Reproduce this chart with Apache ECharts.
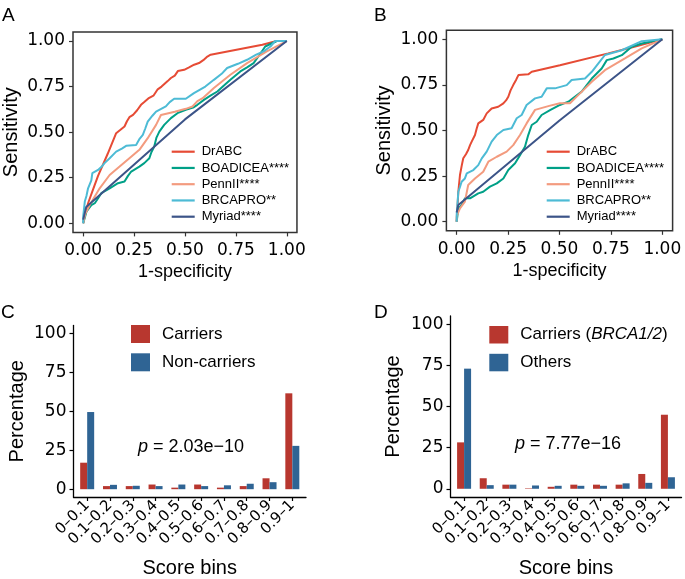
<!DOCTYPE html>
<html><head><meta charset="utf-8">
<script src="https://cdn.jsdelivr.net/npm/echarts@6/dist/echarts.min.js"></script>
<style>html,body{margin:0;padding:0;background:#fff}#c{width:685px;height:579px}</style>
</head><body><div id="c"></div>
<script>
// ---------- DATA ----------
const rocNames = ['DrABC', 'BOADICEA****', 'PennII****', 'BRCAPRO**', 'Myriad****'];
const rocColors = ['#E64B35', '#00A087', '#F39B7F', '#4DBBD5', '#3C5488'];
const rocTicks = [0, 0.25, 0.5, 0.75, 1];

// Panel A ROC curves [1-specificity, sensitivity]
const drabcA = [[0,0],[0.005,0.03],[0.012,0.06],[0.024,0.11],[0.05,0.19],[0.073,0.26],[0.12,0.38],[0.162,0.494],[0.18,0.51],[0.203,0.531],[0.215,0.56],[0.227,0.582],[0.245,0.595],[0.265,0.62],[0.284,0.65],[0.30,0.665],[0.32,0.685],[0.345,0.70],[0.366,0.735],[0.385,0.75],[0.40,0.765],[0.415,0.78],[0.431,0.797],[0.45,0.81],[0.465,0.835],[0.496,0.842],[0.52,0.855],[0.545,0.87],[0.569,0.879],[0.59,0.895],[0.61,0.915],[0.626,0.925],[0.88,0.98],[0.95,1],[1,1]];
const boadA = [[0,0],[0.008,0.03],[0.016,0.064],[0.04,0.1],[0.057,0.11],[0.075,0.14],[0.089,0.165],[0.13,0.192],[0.171,0.22],[0.203,0.229],[0.22,0.26],[0.236,0.284],[0.276,0.311],[0.3,0.33],[0.325,0.357],[0.335,0.39],[0.349,0.421],[0.36,0.47],[0.374,0.503],[0.398,0.54],[0.431,0.577],[0.463,0.604],[0.504,0.623],[0.54,0.635],[0.561,0.65],[0.593,0.677],[0.625,0.70],[0.659,0.723],[0.69,0.755],[0.723,0.787],[0.772,0.833],[0.805,0.855],[0.837,0.879],[0.87,0.93],[0.894,0.97],[0.951,1],[1,1]];
const pennA = [[0,0],[0.01,0.05],[0.032,0.10],[0.081,0.192],[0.13,0.265],[0.179,0.311],[0.227,0.357],[0.276,0.403],[0.317,0.467],[0.358,0.54],[0.382,0.594],[0.45,0.612],[0.504,0.628],[0.537,0.641],[0.561,0.67],[0.587,0.686],[0.642,0.742],[0.723,0.815],[0.805,0.879],[0.902,0.943],[1,1]];
const brcaA = [[0,0],[0,0.036],[0.008,0.119],[0.016,0.15],[0.024,0.192],[0.04,0.235],[0.045,0.275],[0.073,0.293],[0.09,0.31],[0.105,0.33],[0.13,0.357],[0.162,0.393],[0.19,0.41],[0.211,0.425],[0.26,0.43],[0.275,0.46],[0.293,0.485],[0.305,0.52],[0.317,0.558],[0.34,0.59],[0.358,0.613],[0.406,0.641],[0.425,0.665],[0.447,0.683],[0.504,0.683],[0.544,0.714],[0.6,0.75],[0.642,0.787],[0.68,0.82],[0.707,0.852],[0.76,0.875],[0.805,0.897],[0.85,0.925],[0.886,0.943],[0.92,0.97],[0.943,1],[1,1]];
const myriadA = [[0,0.02],[0.015,0.09],[0.5,0.57],[1,1]];

// Panel B ROC curves
const drabcB = [[0,0],[0.004,0.08],[0.008,0.164],[0.016,0.256],[0.025,0.31],[0.032,0.348],[0.045,0.37],[0.056,0.393],[0.065,0.42],[0.073,0.439],[0.089,0.475],[0.097,0.51],[0.105,0.539],[0.129,0.558],[0.146,0.594],[0.17,0.621],[0.202,0.63],[0.227,0.649],[0.24,0.665],[0.251,0.685],[0.262,0.72],[0.275,0.749],[0.29,0.78],[0.30,0.804],[0.348,0.808],[0.365,0.822],[0.502,0.858],[0.737,0.923],[0.85,0.955],[1,1]];
const boadB = [[0,0],[0.008,0.073],[0.024,0.091],[0.04,0.128],[0.065,0.128],[0.105,0.155],[0.129,0.164],[0.162,0.192],[0.195,0.21],[0.227,0.237],[0.251,0.283],[0.284,0.32],[0.308,0.365],[0.332,0.411],[0.348,0.475],[0.365,0.53],[0.389,0.548],[0.413,0.585],[0.454,0.612],[0.502,0.64],[0.543,0.658],[0.608,0.713],[0.657,0.785],[0.705,0.84],[0.73,0.886],[0.762,0.895],[0.803,0.913],[0.851,0.959],[0.9,0.977],[1,1]];
const pennB = [[0,0],[0,0.03],[0.016,0.073],[0.04,0.11],[0.056,0.201],[0.089,0.237],[0.129,0.274],[0.154,0.329],[0.195,0.356],[0.243,0.384],[0.275,0.42],[0.308,0.475],[0.34,0.539],[0.381,0.613],[0.45,0.635],[0.502,0.649],[0.551,0.649],[0.591,0.694],[0.657,0.767],[0.721,0.831],[0.818,0.895],[0.9,0.95],[1,1]];
const brcaB = [[0,0],[0,0.037],[0.008,0.164],[0.016,0.19],[0.024,0.219],[0.04,0.237],[0.049,0.265],[0.081,0.283],[0.105,0.31],[0.122,0.347],[0.146,0.384],[0.17,0.439],[0.195,0.475],[0.227,0.503],[0.267,0.512],[0.292,0.567],[0.316,0.585],[0.34,0.64],[0.381,0.676],[0.413,0.685],[0.438,0.731],[0.478,0.731],[0.535,0.749],[0.559,0.777],[0.624,0.785],[0.657,0.822],[0.69,0.87],[0.721,0.914],[0.803,0.94],[0.9,0.99],[1,1]];
const myriadB = [[0,0.05],[0.008,0.092],[0.5,0.555],[1,1]];

// Panels C / D histograms
const bins = ['0\u20130.1','0.1\u20130.2','0.2\u20130.3','0.3\u20130.4','0.4\u20130.5','0.5\u20130.6','0.6\u20130.7','0.7\u20130.8','0.8\u20130.9','0.9\u20131'];
const pctTicks = [0, 25, 50, 75, 100];
const carriersC = [17, 2, 2, 3, 1, 3, 1, 2, 7, 61.5];
const nonCarriersC = [49.5, 2.8, 2.2, 2, 3, 2, 2.5, 3.5, 4.5, 27.8];
const carriersD = [28.2, 6.4, 2.5, 0.3, 1.2, 2.5, 2.5, 2.5, 9, 45];
const othersD = [73, 2.2, 2.5, 2, 1.8, 1.8, 1.8, 3.3, 3.6, 7];
const namesC = ['Carriers', 'Non-carriers'];
const namesD = ['Carriers (BRCA1/2)', 'Others'];
const barColors = ['#B8372F', '#2F6494'];
const pTextC = '2.03e\u221210';
const pTextD = '7.77e\u221216';

// ---------- CHART ----------
const SANS = 'Liberation Sans';
const WIDE = 'DejaVu Sans';
const chart = echarts.init(document.getElementById('c'));

function rocX(grid) {
  return {
    type: 'value', gridIndex: grid, min: -0.05, max: 1.05,
    name: '1-specificity', nameLocation: 'middle', nameGap: 31,
    nameTextStyle: {fontFamily: SANS, fontSize: 18, color: '#000'},
    axisLine: {show: false, onZero: false},
    axisTick: {show: true, customValues: rocTicks, length: 4, lineStyle: {color: '#333', width: 1.2}},
    axisLabel: {customValues: rocTicks, formatter: v => v.toFixed(2), margin: 10, fontFamily: WIDE, fontSize: 17, color: '#000'},
    splitLine: {show: false}
  };
}
function rocY(grid) {
  return {
    type: 'value', gridIndex: grid, min: -0.05, max: 1.05,
    name: 'Sensitivity', nameLocation: 'middle', nameGap: 52,
    nameTextStyle: {fontFamily: SANS, fontSize: 20, color: '#000'},
    axisLine: {show: false, onZero: false},
    axisTick: {show: true, customValues: rocTicks, length: 4, lineStyle: {color: '#333', width: 1.2}},
    axisLabel: {customValues: rocTicks, formatter: v => v.toFixed(2), margin: 8, fontFamily: WIDE, fontSize: 17, color: '#000'},
    splitLine: {show: false}
  };
}
function barX(grid) {
  const idx = bins.map((b, i) => i);
  return {
    type: 'value', gridIndex: grid, min: -0.6, max: 9.6,
    name: 'Score bins', nameLocation: 'middle', nameGap: 61,
    nameTextStyle: {fontFamily: SANS, fontSize: 20, color: '#000'},
    axisLine: {show: true, onZero: false, lineStyle: {color: '#000', width: 1.3}},
    axisTick: {show: true, customValues: idx, length: 4, lineStyle: {color: '#000', width: 1.2}},
    axisLabel: {customValues: idx, formatter: v => bins[Math.round(v)], rotate: 45, margin: 6, fontFamily: WIDE, fontSize: 15, color: '#000'},
    splitLine: {show: false}
  };
}
function barY(grid, gap) {
  return {
    type: 'value', gridIndex: grid, min: -5, max: 105,
    name: 'Percentage', nameLocation: 'middle', nameGap: gap,
    nameTextStyle: {fontFamily: SANS, fontSize: 20, color: '#000'},
    axisLine: {show: true, onZero: false, lineStyle: {color: '#000', width: 1.3}},
    axisTick: {show: true, customValues: pctTicks, length: 4, lineStyle: {color: '#000', width: 1.2}},
    axisLabel: {customValues: pctTicks, margin: 7, fontFamily: WIDE, fontSize: 17, color: '#000'},
    splitLine: {show: false}
  };
}
function rocSeries(name, data, color, grid) {
  return {
    type: 'line', name: name, data: data, xAxisIndex: grid, yAxisIndex: grid,
    showSymbol: false, symbol: 'none', color: color,
    lineStyle: {color: color, width: 2}, emphasis: {disabled: true}, clip: true
  };
}
function barSeries(name, values, color, grid) {
  return {
    type: 'bar', name: name, data: values.map((v, i) => [i, v]), xAxisIndex: grid, yAxisIndex: grid,
    barWidth: 7, barGap: '0%', itemStyle: {color: color}, emphasis: {disabled: true}
  };
}

const rocA = [drabcA, boadA, pennA, brcaA, myriadA];
const rocB = [drabcB, boadB, pennB, brcaB, myriadB];
const series = [];
rocA.forEach((d, i) => series.push(rocSeries(rocNames[i], d, rocColors[i], 0)));
rocB.forEach((d, i) => series.push(rocSeries(rocNames[i], d, rocColors[i], 1)));
series.push(barSeries(namesC[0], carriersC, barColors[0], 2));
series.push(barSeries(namesC[1], nonCarriersC, barColors[1], 2));
series.push(barSeries(namesD[0], carriersD, barColors[0], 3));
series.push(barSeries(namesD[1], othersD, barColors[1], 3));

function rocLegend(left) {
  return {
    data: rocNames, orient: 'vertical', left: left, top: 143.7, padding: 0,
    icon: 'rect', itemWidth: 23, itemHeight: 2.2, itemGap: 0.25,
    textStyle: {fontFamily: SANS, fontSize: 13, color: '#000', lineHeight: 16, padding: [0, 0, 0, 2]},
    selectedMode: false
  };
}

const option = {
  animation: false,
  grid: [
    {left: 71.45, top: 31.9, width: 225.5, height: 200.5, show: true, borderColor: '#333', borderWidth: 1.5, backgroundColor: 'transparent'},
    {left: 446.4, top: 30.2, width: 226.2, height: 200.6, show: true, borderColor: '#333', borderWidth: 1.5, backgroundColor: 'transparent'},
    {left: 73.5, top: 325.5, width: 232.5, height: 173.5},
    {left: 450.5, top: 316, width: 231, height: 183.5}
  ],
  xAxis: [rocX(0), rocX(1), barX(2), barX(3)],
  yAxis: [rocY(0), rocY(1), barY(2, 46), barY(3, 47)],
  legend: [
    rocLegend(171.7),
    rocLegend(546.7),
    {data: namesC, orient: 'vertical', left: 131, top: 325, padding: 0, icon: 'rect', itemWidth: 19, itemHeight: 18, itemGap: 10.3,
     textStyle: {fontFamily: SANS, fontSize: 17, color: '#000', padding: [0, 0, 0, 7]}, selectedMode: false},
    {data: namesD, orient: 'vertical', left: 489.3, top: 326, padding: 0, icon: 'rect', itemWidth: 19, itemHeight: 17.5, itemGap: 10.3,
     formatter: n => n === namesD[0] ? '{a|Carriers (}{b|BRCA1/2}{a|)}' : '{a|' + n + '}',
     textStyle: {fontFamily: SANS, fontSize: 17, color: '#000', padding: [0, 0, 0, 7],
       rich: {a: {fontFamily: SANS, fontSize: 17, color: '#000'}, b: {fontFamily: SANS, fontSize: 17, color: '#000', fontStyle: 'italic'}}},
     selectedMode: false}
  ],
  graphic: [
    {type: 'text', left: 2, top: 6, style: {text: 'A', font: '19px "Liberation Sans"', fill: '#000'}},
    {type: 'text', left: 374, top: 6, style: {text: 'B', font: '19px "Liberation Sans"', fill: '#000'}},
    {type: 'text', left: 1, top: 303, style: {text: 'C', font: '19px "Liberation Sans"', fill: '#000'}},
    {type: 'text', left: 374, top: 303, style: {text: 'D', font: '19px "Liberation Sans"', fill: '#000'}},
    {type: 'text', left: 138, top: 438, style: {text: '{i|p} = ' + pTextC, fill: '#000', font: '18px "Liberation Sans"',
      rich: {i: {fontStyle: 'italic', fontFamily: SANS, fontSize: 18}}}},
    {type: 'text', left: 515, top: 435, style: {text: '{i|p} = ' + pTextD, fill: '#000', font: '18px "Liberation Sans"',
      rich: {i: {fontStyle: 'italic', fontFamily: SANS, fontSize: 18}}}}
  ],
  series: series
};
chart.setOption(option);
</script>
</body></html>
